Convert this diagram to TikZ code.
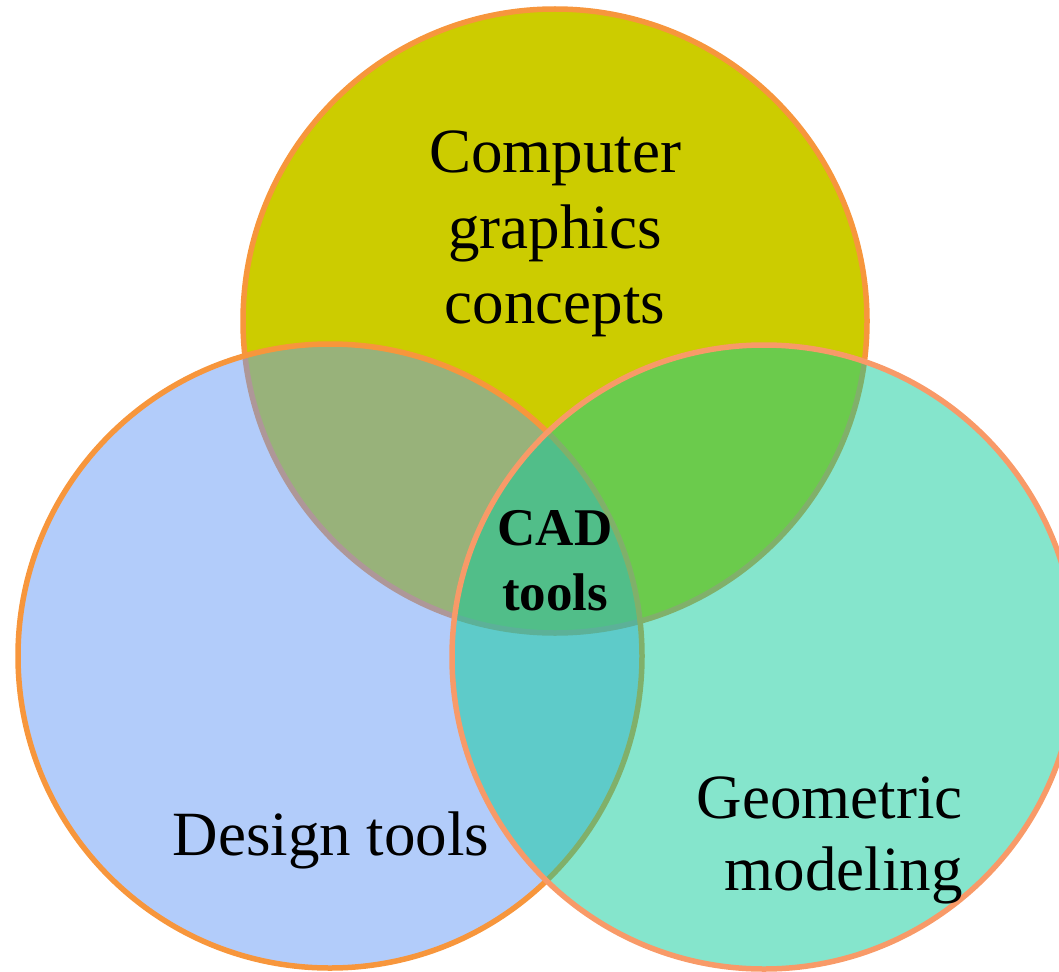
\documentclass[tikz,border=0pt]{standalone}
\usepackage{fontspec}
\setmainfont{Liberation Serif}
\definecolor{cgfill}{RGB}{204,204,0}
\definecolor{dtfill}{RGB}{102,153,245}
\definecolor{gmfill}{RGB}{11,203,153}
\definecolor{rimA}{RGB}{247,150,60}
\definecolor{rimB}{RGB}{248,154,104}
\begin{document}
\begin{tikzpicture}[x=1pt,y=-1pt,
  setcircle/.style={circle,inner sep=0pt,minimum size=624pt,line width=5.5pt},
  biglabel/.style={font=\fontsize{63}{75}\selectfont,inner sep=0pt},
  corelabel/.style={font=\fontsize{53}{65}\selectfont\bfseries,inner sep=0pt}]
\useasboundingbox (0,0) rectangle (1059,971);
\clip (0,0) rectangle (1059,971);
% the three sets, drawn in stacking order
\node[setcircle,draw=rimA,fill=cgfill] (cg) at (555,321) {};
\node[setcircle,draw=rimA,fill=dtfill,fill opacity=0.5] (dt) at (330,656) {};
\node[setcircle,draw=rimB,fill=gmfill,fill opacity=0.5] (gm) at (764,657) {};
% labels
\node[biglabel,anchor=base] (cg1) at (555,172) {Computer};
\node[biglabel,anchor=base] (cg2) at (555,248) {graphics};
\node[biglabel,anchor=base] (cg3) at (555,323) {concepts};
\node[biglabel,anchor=base] (dtl) at (331,855) {Design tools};
\node[biglabel,anchor=base east] (gm1) at (963,818) {Geometric};
\node[biglabel,anchor=base east] (gm2) at (963,890) {modeling};
\node[corelabel,anchor=base] (cad1) at (555,545) {CAD};
\node[corelabel,anchor=base] (cad2) at (555,610) {tools};
\end{tikzpicture}
\end{document}
